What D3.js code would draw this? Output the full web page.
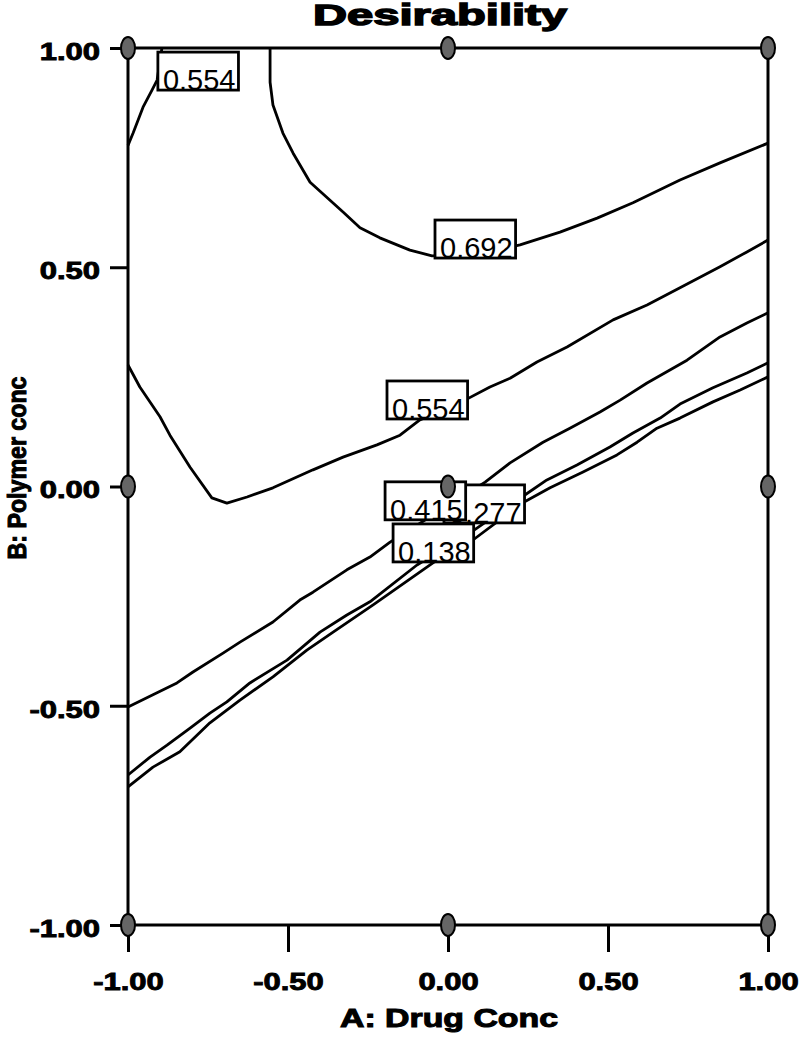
<!DOCTYPE html>
<html>
<head>
<meta charset="utf-8">
<script src="https://cdn.jsdelivr.net/npm/d3@7"></script>
<style>
body { margin: 0; background: #fff; }
svg { display: block; }
</style>
</head>
<body>
<svg id="chart" width="799" height="1037"></svg>
<script>
// Desirability contour plot, A: Drug Conc vs B: Polymer conc (coded units)

// contour lines, each point is [A, B]
const contour692 = [
    [-0.556, 1.000], [-0.556, 0.922], [-0.547, 0.870], [-0.516, 0.806], [-0.484, 0.760],
    [-0.431, 0.694], [-0.328, 0.626], [-0.275, 0.590], [-0.213, 0.567], [-0.119, 0.539],
    [-0.050, 0.526], [0.100, 0.530], [0.225, 0.551], [0.350, 0.580], [0.466, 0.612],
    [0.578, 0.647], [0.725, 0.699], [0.850, 0.738], [1.000, 0.783]
];
const contour554top = [
    [-1.000, 0.778], [-0.984, 0.806], [-0.953, 0.865], [-0.925, 0.904], [-0.909, 0.927], [-0.894, 1.000]
];
const contour554 = [
    [-1.000, 0.277], [-0.963, 0.227], [-0.900, 0.159], [-0.869, 0.117], [-0.806, 0.044],
    [-0.738, -0.026], [-0.691, -0.038], [-0.628, -0.024], [-0.547, -0.003], [-0.422, 0.038],
    [-0.328, 0.067], [-0.222, 0.095], [-0.150, 0.117], [-0.088, 0.152], [0.053, 0.197],
    [0.131, 0.227], [0.194, 0.247], [0.278, 0.284], [0.372, 0.318], [0.516, 0.380],
    [0.622, 0.414], [0.725, 0.453], [0.850, 0.501], [0.934, 0.535], [1.000, 0.562]
];
const contour415 = [
    [-1.000, -0.503], [-0.922, -0.475], [-0.847, -0.448], [-0.797, -0.423], [-0.703, -0.380],
    [-0.650, -0.355], [-0.547, -0.309], [-0.463, -0.259], [-0.422, -0.241], [-0.316, -0.190],
    [-0.244, -0.161], [-0.181, -0.127], [0.116, 0.010], [0.194, 0.054], [0.297, 0.101],
    [0.381, 0.133], [0.475, 0.170], [0.538, 0.197], [0.622, 0.236], [0.747, 0.288],
    [0.850, 0.341], [0.934, 0.373], [1.000, 0.396]
];
const contour277 = [
    [-1.000, -0.658], [-0.931, -0.617], [-0.878, -0.590], [-0.806, -0.551], [-0.744, -0.517],
    [-0.691, -0.491], [-0.619, -0.448], [-0.503, -0.396], [-0.400, -0.332], [-0.316, -0.293],
    [-0.244, -0.263], [-0.097, -0.179], [0.078, -0.101], [0.231, -0.024], [0.309, 0.015],
    [0.403, 0.049], [0.506, 0.090], [0.578, 0.122], [0.663, 0.156], [0.725, 0.188],
    [0.828, 0.225], [0.934, 0.259], [1.000, 0.282]
];
const contour138 = [
    [-1.000, -0.685], [-0.922, -0.640], [-0.838, -0.605], [-0.744, -0.539], [-0.650, -0.487],
    [-0.547, -0.434], [-0.441, -0.373], [-0.359, -0.332], [-0.234, -0.270], [-0.047, -0.174],
    [0.078, -0.122], [0.231, -0.038], [0.319, -0.003], [0.422, 0.033], [0.528, 0.072],
    [0.591, 0.101], [0.653, 0.133], [0.725, 0.156], [0.828, 0.193], [0.913, 0.220],
    [1.000, 0.250]
];

// contour labels: text, left of text (A), baseline (B) - drawn in this order
const labelTexts = ["0.554", "0.692", "0.554", "0.277", "0.415", "0.138"];
const labelA = [-0.891, -0.025, -0.175, 0.003, -0.181, -0.156];
const labelB = [0.904, 0.521, 0.154, -0.083, -0.076, -0.172];

// design points
const designA = [-1, 0, 1, -1, 0, 1, -1, 0, 1];
const designB = [1, 1, 1, 0, 0, 0, -1, -1, -1];

const xTicks = [-1, -0.5, 0, 0.5, 1];
const yTicks = [-1, -0.5, 0, 0.5, 1];

const svg = d3.select("#chart");
const font = "'Liberation Sans', Arial, sans-serif";

const x = d3.scaleLinear().domain([-1, 1]).range([128, 768]);
const y = d3.scaleLinear().domain([-1, 1]).range([925, 48]);

// contour lines
const line = d3.line().x(d => x(d[0])).y(d => y(d[1]));
const contours = [contour692, contour554top, contour554, contour415, contour277, contour138];

svg.append("g")
    .selectAll("path")
    .data(contours)
    .enter()
    .append("path")
        .attr("d", line)
        .attr("fill", "none")
        .attr("stroke", "#000")
        .attr("stroke-width", 2.8)
        .attr("stroke-linejoin", "round");

// labels with white boxes
labelTexts.forEach((t, i) => {
    const g = svg.append("g");
    const box = g.append("rect");
    const tx = x(labelA[i]);
    const ty = y(labelB[i]);
    const txt = g.append("text")
        .attr("x", tx)
        .attr("y", ty)
        .style("font-family", font)
        .style("font-size", "29px")
        .attr("fill", "#000")
        .text(t);
    const len = txt.node().getComputedTextLength();
    box.attr("x", tx - 5)
        .attr("y", ty - 38)
        .attr("width", len + 8)
        .attr("height", 38)
        .attr("fill", "#fff")
        .attr("stroke", "#000")
        .attr("stroke-width", 2.8);
});

// x axis
const xAxis = svg.append("g")
    .attr("transform", `translate(0, ${y(-1)})`)
    .call(d3.axisBottom(x).tickValues(xTicks).tickFormat(d => d.toFixed(2)).tickSize(27).tickSizeOuter(0));
xAxis.select(".domain").remove();
xAxis.selectAll("line").attr("stroke", "#000").attr("stroke-width", 3);
xAxis.selectAll("text")
    .attr("y", 65)
    .attr("dy", 0)
    .attr("transform", "scale(1.29,1)")
    .attr("fill", "#000")
    .attr("stroke", "#000")
    .attr("stroke-width", 0.9)
    .style("font-family", font)
    .style("font-size", "24px")
    .style("font-weight", "bold");

// y axis
const yAxis = svg.append("g")
    .attr("transform", `translate(${x(-1)}, 0)`)
    .call(d3.axisLeft(y).tickValues(yTicks).tickFormat(d => d.toFixed(2)).tickSize(18).tickSizeOuter(0));
yAxis.select(".domain").remove();
yAxis.selectAll("line").attr("stroke", "#000").attr("stroke-width", 3);
yAxis.selectAll("text")
    .attr("x", -21.7)
    .attr("y", 3)
    .attr("dy", "0.35em")
    .attr("transform", "scale(1.29,1)")
    .attr("fill", "#000")
    .attr("stroke", "#000")
    .attr("stroke-width", 0.9)
    .style("font-family", font)
    .style("font-size", "24px")
    .style("font-weight", "bold");

// frame
svg.append("rect")
    .attr("x", x(-1))
    .attr("y", y(1))
    .attr("width", x(1) - x(-1))
    .attr("height", y(-1) - y(1))
    .attr("fill", "none")
    .attr("stroke", "#000")
    .attr("stroke-width", 3);

// design points
svg.append("g")
    .selectAll("ellipse")
    .data(designA)
    .enter()
    .append("ellipse")
        .attr("cx", d => x(d))
        .attr("cy", (d, i) => y(designB[i]))
        .attr("rx", 7)
        .attr("ry", 11)
        .attr("fill", "#666")
        .attr("stroke", "#000")
        .attr("stroke-width", 2);

// titles
svg.append("text")
    .attr("x", 440)
    .attr("y", 25)
    .attr("text-anchor", "middle")
    .attr("textLength", 254)
    .attr("lengthAdjust", "spacingAndGlyphs")
    .attr("stroke", "#000")
    .attr("stroke-width", 1.4)
    .style("font-family", font)
    .style("font-size", "29px")
    .style("font-weight", "bold")
    .text("Desirability");

svg.append("text")
    .attr("x", 449)
    .attr("y", 1027)
    .attr("text-anchor", "middle")
    .attr("textLength", 218)
    .attr("lengthAdjust", "spacingAndGlyphs")
    .attr("stroke", "#000")
    .attr("stroke-width", 1)
    .style("font-family", font)
    .style("font-size", "25px")
    .style("font-weight", "bold")
    .text("A: Drug Conc");

svg.append("text")
    .attr("transform", "translate(26, 468) rotate(-90)")
    .attr("text-anchor", "middle")
    .attr("textLength", 183)
    .attr("lengthAdjust", "spacingAndGlyphs")
    .attr("stroke", "#000")
    .attr("stroke-width", 1)
    .style("font-family", font)
    .style("font-size", "25px")
    .style("font-weight", "bold")
    .text("B: Polymer conc");
</script>
</body>
</html>
